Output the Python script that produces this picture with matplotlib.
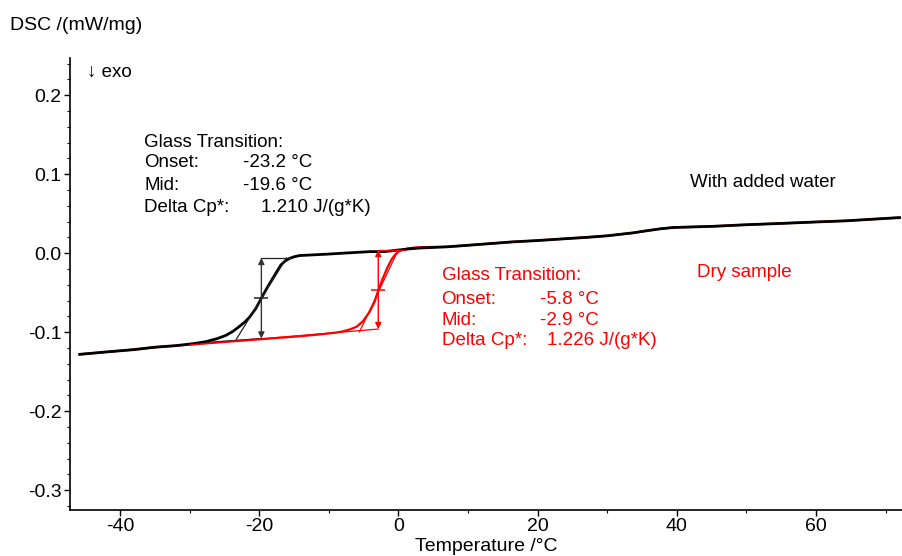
import numpy as np
import matplotlib
matplotlib.use("Agg")
import matplotlib.pyplot as plt
from matplotlib.ticker import MultipleLocator, FormatStrFormatter

plt.rcParams['font.family'] = ['Liberation Sans', 'DejaVu Sans']
plt.rcParams['axes.unicode_minus'] = False

# --- data ---
t_water = [-45.8, -42, -38, -35, -32, -29.5, -27.7, -26, -24.8, -23.8, -22.9, -22,
           -21.4, -20.5, -19.7, -18.8, -17.8, -16.9, -16.3, -15.7, -15, -14.2, -12,
           -10.4, -8, -6, -4, -2, 0, 1.1, 3, 6.9, 10, 16.4, 20, 23.6, 27, 30, 33.7,
           35.6, 37.6, 39.5, 45.2, 50, 54.8, 60, 64.4, 70.6, 72]
dsc_water = [-0.128, -0.125, -0.122, -0.119, -0.117, -0.1145, -0.112, -0.108, -0.104,
             -0.099, -0.093, -0.0865, -0.081, -0.070, -0.057, -0.0426, -0.028,
             -0.015, -0.010, -0.0068, -0.0045, -0.003, -0.002, -0.0013, 0.000,
             0.001, 0.002, 0.002, 0.004, 0.0051, 0.0065, 0.008, 0.010, 0.0143,
             0.016, 0.0181, 0.0200, 0.022, 0.0257, 0.0283, 0.0308, 0.0325, 0.034,
             0.036, 0.0376, 0.0395, 0.041, 0.0443, 0.045]

t_dry = [-45.8, -42, -38, -35, -32, -29, -26, -23, -20, -17, -14, -11, -9, -8, -7,
         -6, -5.1, -4.2, -3.45, -2.9, -2.26, -1.54, -1, -0.5, 0, 0.7, 1.5, 2.5, 4,
         6.9, 10, 16.4, 20, 23.6, 27, 30, 33.7, 35.6, 37.6, 39.5, 45.2, 50, 54.8,
         60, 64.4, 70.6, 72]
dsc_dry = [-0.128, -0.125, -0.122, -0.119, -0.117, -0.115, -0.113, -0.111, -0.109,
           -0.107, -0.105, -0.1025, -0.1005, -0.099, -0.0965, -0.093, -0.086,
           -0.075, -0.062, -0.047, -0.032, -0.0173, -0.008, -0.002, 0.002, 0.0045,
           0.0062, 0.0073, 0.0078, 0.008, 0.010, 0.0143, 0.016, 0.0181, 0.0200,
           0.022, 0.0257, 0.0283, 0.0308, 0.0325, 0.034, 0.036, 0.0376, 0.0395,
           0.041, 0.0443, 0.045]

# glass transition evaluation (onset, mid, step top / bottom)
tg_water = {"mid": -19.7, "top": -0.006, "bottom": -0.108, "midval": -0.057,
            "base": [(-27.6, -0.113), (-19.7, -0.108)],
            "tangent": [(-23.3, -0.109), (-16.1, -0.006)],
            "upper": [(-19.7, -0.006), (-15.3, -0.006)]}
tg_dry = {"mid": -2.9, "top": 0.004, "bottom": -0.096, "midval": -0.047,
          "base": [(-30.0, -0.116), (-2.9, -0.096)],
          "tangent": [(-5.6, -0.0996), (0.0, 0.0047)],
          "upper": [(-2.9, 0.004), (1.0, 0.004)]}

block_labels = ["Glass Transition:", "Onset:", "Mid:", "Delta Cp*:"]
water_vals = ["-23.2 °C", "-19.6 °C", "1.210 J/(g*K)"]
dry_vals = ["-5.8 °C", "-2.9 °C", "1.226 J/(g*K)"]

fig = plt.figure(figsize=(9.03, 5.56), dpi=100)
ax = fig.add_axes([0.0775, 0.0827, 0.9225, 0.813])

ax.plot(t_dry, dsc_dry, color='red', lw=1.6, zorder=3)
ax.plot(t_water, dsc_water, color='black', lw=2.0, zorder=4)


def draw_eval(ev, col, arrow_col):
    for key in ("base", "tangent", "upper"):
        (x0, y0), (x1, y1) = ev[key]
        ax.plot([x0, x1], [y0, y1], color=col, lw=0.9, zorder=5)
    ax.annotate('', xy=(ev["mid"], ev["top"]), xytext=(ev["mid"], ev["bottom"]),
                arrowprops=dict(arrowstyle='<|-|>', color=arrow_col, lw=1.0,
                                mutation_scale=9, shrinkA=0, shrinkB=0), zorder=5)
    ax.plot([ev["mid"]], [ev["midval"]], marker='_', markersize=10,
            mew=1.1, color=col, zorder=6)


draw_eval(tg_water, '#222222', '#333333')
draw_eval(tg_dry, 'red', 'red')

ax.set_xlim(-47.2, 72.5)
ax.set_ylim(-0.325, 0.247)
ax.xaxis.set_major_locator(MultipleLocator(20))
ax.xaxis.set_minor_locator(MultipleLocator(10))
ax.yaxis.set_major_locator(MultipleLocator(0.1))
ax.yaxis.set_minor_locator(MultipleLocator(0.02))
ax.yaxis.set_major_formatter(FormatStrFormatter('%.1f'))
ax.spines['top'].set_visible(False)
ax.spines['right'].set_visible(False)
for s in ('left', 'bottom'):
    ax.spines[s].set_linewidth(1.2)
ax.tick_params(which='major', length=4, width=1.0, labelsize=14, pad=2)
ax.tick_params(which='minor', length=2, width=0.8)
ax.set_xlabel("Temperature /°C", fontsize=14, labelpad=2)

fig.text(10 / 903, 1 - 25 / 556, "DSC /(mW/mg)", fontsize=14, va='center', ha='left')
ax.text(-44.7, 0.229, "↓ exo", fontsize=13.5, va='center', ha='left')

fs = 13.5
# annotation blocks
ys_w = [0.1405, 0.115, 0.086, 0.058]
for s, y in zip(block_labels, ys_w):
    ax.text(-36.5, y, s, fontsize=fs, va='center', ha='left', color='black')
for s, y, x in zip(water_vals, ys_w[1:], [-22.4, -22.4, -19.7]):
    ax.text(x, y, s, fontsize=fs, va='center', ha='left', color='black')

ys_d = [-0.028, -0.059, -0.085, -0.110]
for s, y in zip(block_labels, ys_d):
    ax.text(6.2, y, s, fontsize=fs, va='center', ha='left', color='red')
for s, y, x in zip(dry_vals, ys_d[1:], [20.3, 20.3, 21.3]):
    ax.text(x, y, s, fontsize=fs, va='center', ha='left', color='red')

ax.text(41.9, 0.090, "With added water", fontsize=fs, va='center', ha='left', color='black')
ax.text(42.9, -0.025, "Dry sample", fontsize=fs, va='center', ha='left', color='red')

fig.savefig("out.png", dpi=100)
